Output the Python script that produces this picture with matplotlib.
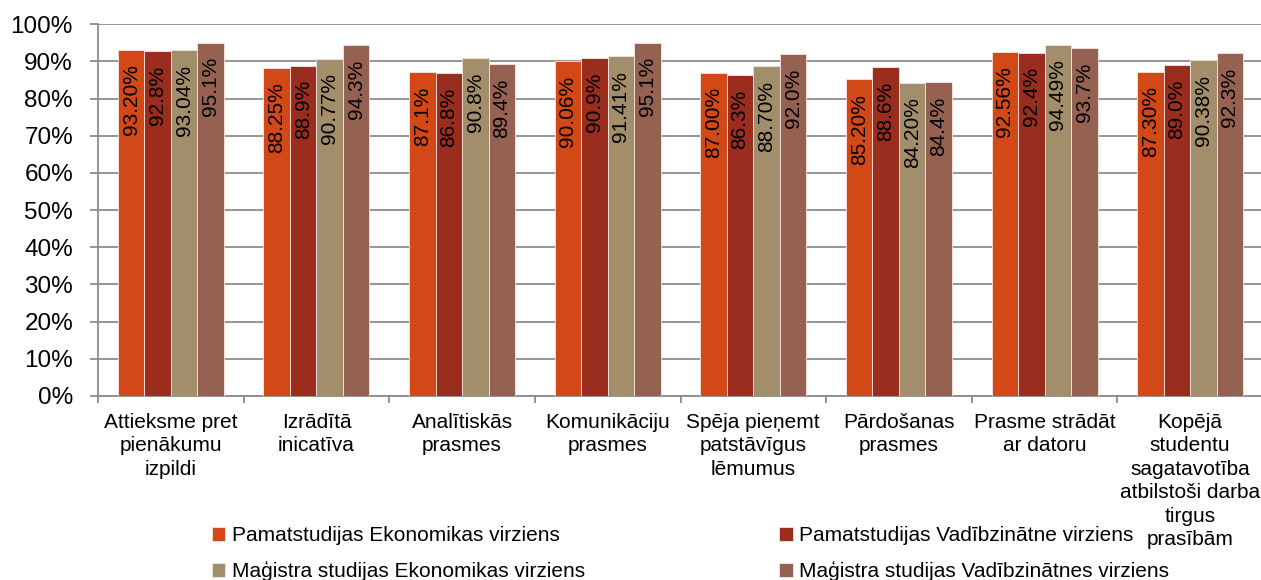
import matplotlib.pyplot as plt
import numpy as np

plt.rcParams['font.family'] = ['Liberation Sans', 'DejaVu Sans']

categories = [
    'Attieksme pret\npienākumu\nizpildi',
    'Izrādītā\ninicatīva',
    'Analītiskās\nprasmes',
    'Komunikāciju\nprasmes',
    'Spēja pieņemt\npatstāvīgus\nlēmumus',
    'Pārdošanas\nprasmes',
    'Prasme strādāt\nar datoru',
    'Kopējā\nstudentu\nsagatavotība\natbilstoši darba\ntirgus\nprasībām',
]

series_names = [
    'Pamatstudijas Ekonomikas virziens',
    'Pamatstudijas Vadībzinātne virziens',
    'Maģistra studijas Ekonomikas virziens',
    'Maģistra studijas Vadībzinātnes virziens',
]

pamat_ekon = [93.20, 88.25, 87.1, 90.06, 87.00, 85.20, 92.56, 87.30]
pamat_vad = [92.8, 88.9, 86.8, 90.9, 86.3, 88.6, 92.4, 89.0]
mag_ekon = [93.04, 90.77, 90.8, 91.41, 88.70, 84.20, 94.49, 90.38]
mag_vad = [95.1, 94.3, 89.4, 95.1, 92.0, 84.4, 93.7, 92.3]

pamat_ekon_lbl = ['93.20%', '88.25%', '87.1%', '90.06%', '87.00%', '85.20%', '92.56%', '87.30%']
pamat_vad_lbl = ['92.8%', '88.9%', '86.8%', '90.9%', '86.3%', '88.6%', '92.4%', '89.0%']
mag_ekon_lbl = ['93.04%', '90.77%', '90.8%', '91.41%', '88.70%', '84.20%', '94.49%', '90.38%']
mag_vad_lbl = ['95.1%', '94.3%', '89.4%', '95.1%', '92.0%', '84.4%', '93.7%', '92.3%']

colors = ['#D34817', '#9B2D1F', '#A28E6A', '#956251']

values = [pamat_ekon, pamat_vad, mag_ekon, mag_vad]
labels = [pamat_ekon_lbl, pamat_vad_lbl, mag_ekon_lbl, mag_vad_lbl]

fig = plt.figure(figsize=(12.61, 5.80), dpi=100)
ax = fig.add_axes([98 / 1261, 1 - 396 / 580, 1165 / 1261, (396 - 24.3) / 580])

x = np.arange(len(categories))
w = 0.182
bars = []
for i, (vals, lbls) in enumerate(zip(values, labels)):
    pos = x + (i - 1.5) * w
    b = ax.bar(pos, vals, w, color=colors[i], edgecolor='#f3e6e2', linewidth=0.6,
               label=series_names[i], zorder=3)
    bars.append(b)
    for xp, v, t in zip(pos, vals, lbls):
        ax.annotate(t, (xp, v), xytext=(0, -10.5), textcoords='offset points',
                    rotation=90, ha='center', va='top', fontsize=15, zorder=4)

ax.set_xlim(-0.5, len(categories) - 0.5)
ax.set_ylim(0, 100)
ax.set_yticks(np.arange(0, 101, 10))
ax.set_yticklabels([f'{v}%' for v in range(0, 101, 10)], fontsize=17.5)
ax.yaxis.grid(True, color='#8c8c8c', linewidth=1.3, zorder=0)
ax.tick_params(axis='y', length=6, width=1.3, color='#8c8c8c', pad=12)

ax.set_xticks(x)
ax.set_xticklabels(categories, fontsize=15, linespacing=1.3)
ax.set_xticks(np.arange(-0.5, len(categories), 1), minor=True)
ax.tick_params(axis='x', which='major', length=0, pad=12)
ax.tick_params(axis='x', which='minor', length=5, width=1.3, color='#8c8c8c')

for s in ['top', 'right']:
    ax.spines[s].set_visible(False)
for s in ['left', 'bottom']:
    ax.spines[s].set_color('#8c8c8c')
    ax.spines[s].set_linewidth(1.3)

order = [0, 2, 1, 3]
fig.legend([bars[i] for i in order], [series_names[i] for i in order],
           ncol=2, loc='lower left', bbox_to_anchor=(193 / 1261, -0.034),
           frameon=False, fontsize=15, handlelength=0.65, handleheight=0.65,
           handletextpad=0.3, columnspacing=9.35, labelspacing=0.75)

fig.savefig('out.png', dpi=100)
